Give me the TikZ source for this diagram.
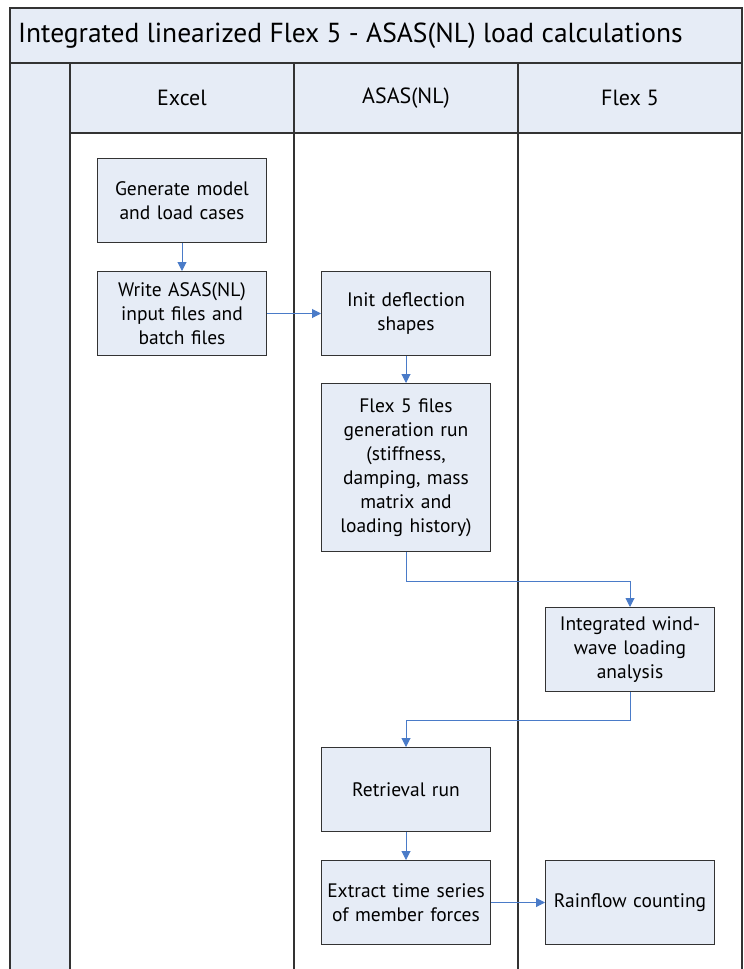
\documentclass[tikz,border=0pt]{standalone}
\usepackage{fontspec}
\setmainfont{PT Sans}
\usetikzlibrary{arrows.meta,positioning}
\definecolor{lane}{HTML}{E6ECF6}
\definecolor{boxfill}{HTML}{E6ECF6}
\definecolor{edge}{HTML}{333333}
\definecolor{flow}{HTML}{4A7BC8}
\tikzset{
  stepbox/.style={draw=edge, line width=1pt, fill=boxfill, minimum width=169pt, minimum height=84pt, text width=165pt, align=center, font=\fontsize{19.5}{24}\selectfont, inner sep=0pt, anchor=north west},
  flowline/.style={draw=flow, line width=1pt, -{Triangle[length=9pt,width=9pt]}},
  laneline/.style={draw=edge, line width=1.5pt}
}
\begin{document}
\begin{tikzpicture}[x=1pt,y=-1pt]
\useasboundingbox (0,0) rectangle (744,969);
% lanes background
\fill[lane] (10,8) rectangle (742,63);
\fill[lane] (70,63) rectangle (742,133);
\fill[lane] (10,63) rectangle (70,969);
% lines
\draw[laneline] (10,969) -- (10,8) -- (742,8) -- (742,969);
\draw[laneline] (10,63) -- (742,63);
\draw[laneline] (70,133) -- (742,133);
\draw[laneline] (70,63) -- (70,969);
\draw[laneline] (294,63) -- (294,969);
\draw[laneline] (518,63) -- (518,969);
% titles
\node[font=\fontsize{27.5}{32}\selectfont, anchor=west, inner sep=0pt] (title) at (18,36) {Integrated linearized Flex 5 - ASAS(NL) load calculations};
\node[font=\fontsize{22}{26}\selectfont] (h1) at (182,98) {Excel};
\node[font=\fontsize{22}{26}\selectfont] (h2) at (406,98) {ASAS(NL)};
\node[font=\fontsize{22}{26}\selectfont] (h3) at (630,98) {Flex 5};
% boxes
\node[stepbox] (b1) at (97,158) {Generate model\\and load cases};
\node[stepbox] (b2) at (97,271) {Write ASAS(NL)\\input files and\\batch files};
\node[stepbox] (b3) at (321,271) {Init deflection\\shapes};
\node[stepbox, minimum height=168pt] (b4) at (321,383) {Flex 5 files\\generation run\\(stiffness,\\damping, mass\\matrix and\\loading history)};
\node[stepbox] (b5) at (545,607) {Integrated wind-\\wave loading\\analysis};
\node[stepbox] (b6) at (321,747) {Retrieval run};
\node[stepbox] (b7) at (321,860) {Extract time series\\of member forces};
\node[stepbox] (b8) at (545,860) {Rainflow counting};
% connectors
\draw[flowline] (b1.south) -- (b2.north);
\draw[flowline] (b2.east) -- (b3.west);
\draw[flowline] (b3.south) -- (b4.north);
\draw[flowline] (b4.south) -- ++(0,29) -| (b5.north);
\draw[flowline] (b5.south) -- ++(0,28) -| (b6.north);
\draw[flowline] (b6.south) -- (b7.north);
\draw[flowline] (b7.east) -- (b8.west);
\end{tikzpicture}
\end{document}
